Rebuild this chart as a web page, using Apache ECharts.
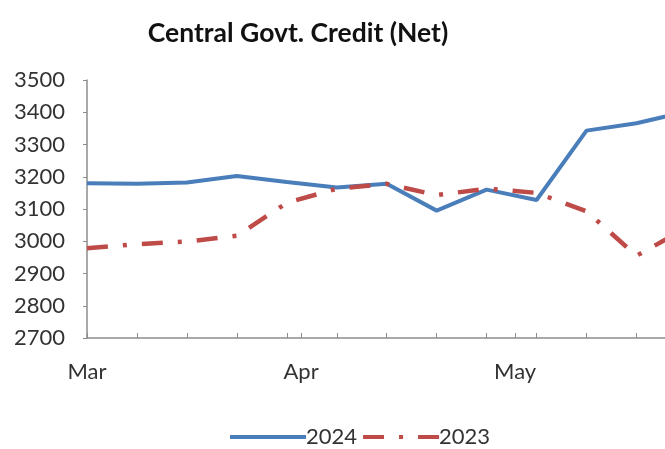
<!DOCTYPE html>
<html>
<head>
<meta charset="utf-8">
<script src="https://cdn.jsdelivr.net/npm/echarts@6/dist/echarts.min.js"></script>
<style>
  html, body { margin: 0; padding: 0; background: #fff; }
  #chart { width: 665px; height: 449px; }
</style>
</head>
<body>
<div id="chart"></div>
<script>
// Weekly observation dates (reporting Saturdays)
const weeks = ['2024-03-02','2024-03-09','2024-03-16','2024-03-23','2024-03-30',
               '2024-04-06','2024-04-13','2024-04-20','2024-04-27',
               '2024-05-04','2024-05-11','2024-05-18','2024-05-25'];
// Net credit to central government, current year and previous year
const credit2024 = [3180, 3178, 3182, 3202, 3184, 3167, 3178, 3095, 3160, 3128, 3343, 3366, 3402];
const credit2023 = [2978, 2991, 2999, 3017, 3119, 3163, 3178, 3143, 3163, 3150, 3093, 2955, 3041];
// Month labels on the date axis
const monthLabels = ['2024-03-02', '2024-04-01', '2024-05-01'];
const monthNames = ['Jan','Feb','Mar','Apr','May','Jun','Jul','Aug','Sep','Oct','Nov','Dec'];
const yTicks = [2700, 2800, 2900, 3000, 3100, 3200, 3300, 3400, 3500];

// Dates are plotted as day numbers on a linear axis
const DAY = 86400000;
const dayNum = s => { const [y, m, d] = s.split('-').map(Number); return Math.round(Date.UTC(y, m - 1, d) / DAY); };
const monthOf = n => monthNames[new Date(n * DAY).getUTCMonth()];

const FONT = 'Lato';
const chart = echarts.init(document.getElementById('chart'), null, { renderer: 'canvas' });
chart.setOption({
  animation: false,
  title: {
    text: 'Central Govt. Credit (Net)',
    left: 293, top: 15, textAlign: 'center',
    textStyle: { fontFamily: FONT, fontWeight: 'bold', fontSize: 26.5, color: '#111' }
  },
  legend: {
    left: 223, top: 421,
    itemWidth: 76, itemHeight: 14, itemGap: 4,
    itemStyle: { opacity: 0 },
    lineStyle: { width: 4 },
    textStyle: { fontFamily: FONT, fontSize: 22, color: '#333', padding: [0, 0, 0, -5] },
    data: ['2024', '2023']
  },
  grid: { left: 87, right: 0, top: 80, bottom: 111, containLabel: false },
  xAxis: {
    type: 'value',
    min: dayNum('2024-03-02'),
    max: dayNum('2024-05-22'),
    splitLine: { show: false },
    axisLine: { lineStyle: { color: '#8c8c8c', width: 1.5 } },
    axisTick: {
      show: true, inside: true, length: 5,
      lineStyle: { color: '#8c8c8c' },
      customValues: weeks.map(dayNum).concat([dayNum('2024-04-01'), dayNum('2024-05-01')])
    },
    axisLabel: {
      customValues: monthLabels.map(dayNum),
      formatter: v => monthOf(v),
      fontFamily: FONT, fontSize: 22, color: '#333', margin: 23,
      hideOverlap: false
    }
  },
  yAxis: {
    type: 'value',
    min: 2700, max: 3500, interval: 100,
    splitLine: { show: false },
    axisLine: { show: true, lineStyle: { color: '#8c8c8c', width: 1.5 } },
    axisTick: { show: true, length: 4, lineStyle: { color: '#8c8c8c' } },
    axisLabel: {
      fontFamily: FONT, fontSize: 22, color: '#333', margin: 22,
      formatter: v => yTicks.includes(v) ? String(v) : ''
    }
  },
  series: [
    {
      name: '2024', type: 'line', symbol: 'none', clip: true,
      data: weeks.map((d, i) => [dayNum(d), credit2024[i]]),
      lineStyle: { color: '#4a7ebb', width: 4 },
      itemStyle: { color: '#4a7ebb' }
    },
    {
      name: '2023', type: 'line', symbol: 'none', clip: true,
      data: weeks.map((d, i) => [dayNum(d), credit2023[i]]),
      lineStyle: { color: '#be4b48', width: 4.5, type: [21, 15, 4, 15] },
      itemStyle: { color: '#be4b48' }
    }
  ]
});
</script>
</body>
</html>
